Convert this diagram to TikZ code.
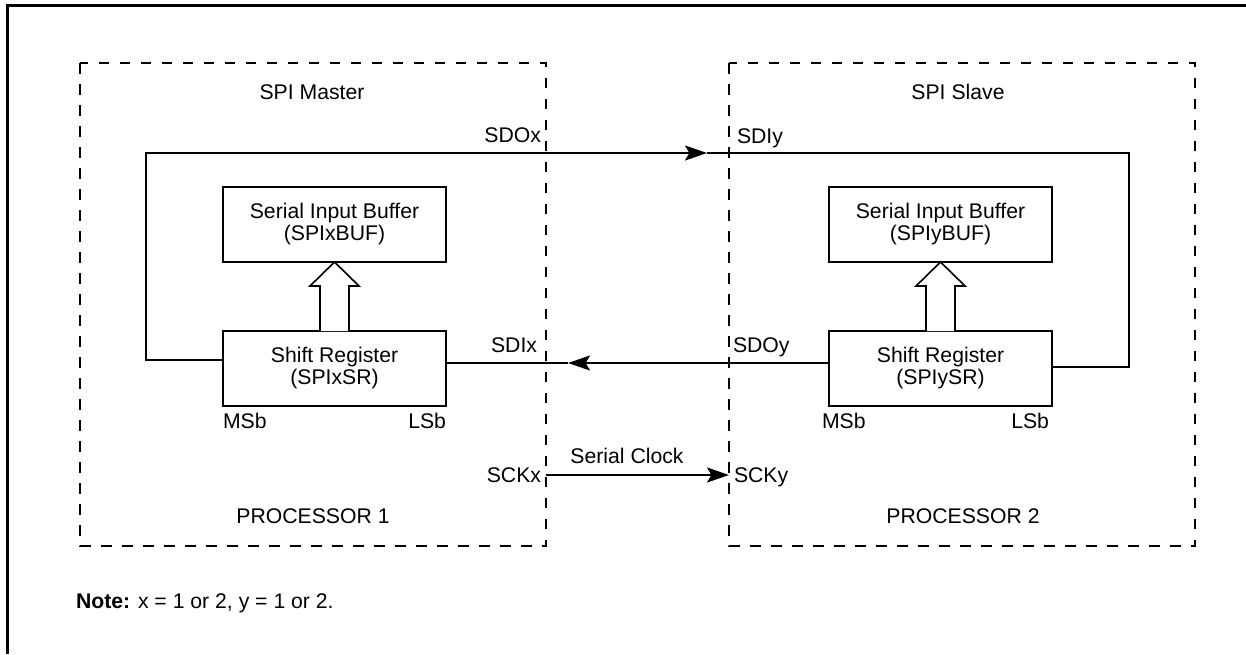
\documentclass[tikz,border=0pt]{standalone}
\usepackage{fontspec}
\setmainfont{Liberation Sans}
\usetikzlibrary{calc,arrows.meta}
\begin{document}
\begin{tikzpicture}[x=0.5pt,y=-0.5pt,
  every node/.style={font=\fontsize{10.6}{11}\selectfont, inner sep=0pt, outer sep=0pt},
  blockbox/.style={draw, line width=1.1pt, minimum width=111.5pt, minimum height=37.5pt, align=center},
  dashbox/.style={line width=1.1pt, dash pattern=on 5.25pt off 5.25pt},
  wire/.style={line width=1pt},
  tip/.style={-{Stealth[length=11pt,width=7.5pt,inset=2.2pt]}},
  hollow/.style={line width=0.8pt, fill=white},
  frame/.style={line width=1.5pt}
]
\useasboundingbox (0,0) rectangle (1246,654);
% outer frame
\draw[frame] (7,654) -- (7,5) -- (1246,5);
% dashed processor boxes
\draw[dashbox] (80,63) rectangle (546,546);
\draw[dashbox] (729,63) rectangle (1195,546);
% blocks
\node[blockbox] (bufL) at (334.5,224.5) {Serial Input Buffer\\(SPIxBUF)};
\node[blockbox] (srL) at (334.5,368.5) {Shift Register\\(SPIxSR)};
\node[blockbox] (bufR) at (940.5,224.5) {Serial Input Buffer\\(SPIyBUF)};
\node[blockbox] (srR) at (940.5,368.5) {Shift Register\\(SPIySR)};
% hollow arrows
\draw[hollow] ($(srL.north)+(-14.5,0)$) -- ($(srL.north)+(-14.5,-45)$) -- ($(srL.north)+(-24.5,-45)$) -- (bufL.south) -- ($(srL.north)+(24.5,-45)$) -- ($(srL.north)+(14.5,-45)$) -- ($(srL.north)+(14.5,0)$);
\draw[hollow] ($(srR.north)+(-14.5,0)$) -- ($(srR.north)+(-14.5,-45)$) -- ($(srR.north)+(-24.5,-45)$) -- (bufR.south) -- ($(srR.north)+(24.5,-45)$) -- ($(srR.north)+(14.5,-45)$) -- ($(srR.north)+(14.5,0)$);
% coordinates
\coordinate (tl) at (146,153);
\coordinate (tip1) at (707,153);
\coordinate (tr) at (1129,153);
\coordinate (tip2) at (568,363);
\coordinate (sckx) at (546,475);
\coordinate (scky) at (729,475);
% wires
\draw[wire,tip] ($(srL.west)+(0,-8.5)$) -| (tl) -- (tip1);
\draw[wire] (tip1) -- (tr) |- ($(srR.east)+(0,-1.5)$);
\draw[wire,tip] ($(srR.west)+(0,-5.5)$) -- (tip2);
\draw[wire] (tip2) -- ($(srL.east)+(0,-5.5)$);
\draw[wire,tip] (sckx) -- (scky);
% labels
\node[anchor=base] (lm) at (312,99) {SPI Master};
\node[anchor=base] (ls) at (958,99) {SPI Slave};
\node[anchor=base east] (lsdox) at (541,142) {SDOx};
\node[anchor=base west] (lsdiy) at (737,143) {SDIy};
\node[anchor=base east] (lsdix) at (537,352) {SDIx};
\node[anchor=base west] (lsdoy) at (733,352) {SDOy};
\node[anchor=base west] (lmsb1) at (223,428) {MSb};
\node[anchor=base east] (llsb1) at (446,428) {LSb};
\node[anchor=base west] (lmsb2) at (822,428) {MSb};
\node[anchor=base east] (llsb2) at (1049,428) {LSb};
\node[anchor=base] (lclk) at (627,463) {Serial Clock};
\node[anchor=base east] (lsckx) at (541,482) {SCKx};
\node[anchor=base west] (lscky) at (734,482) {SCKy};
\node[anchor=base] (lp1) at (313,523) {PROCESSOR 1};
\node[anchor=base] (lp2) at (963,523) {PROCESSOR 2};
\node[anchor=base west] (lnote) at (76,608) {\textbf{Note:} x = 1 or 2, y = 1 or 2.};
\end{tikzpicture}
\end{document}
